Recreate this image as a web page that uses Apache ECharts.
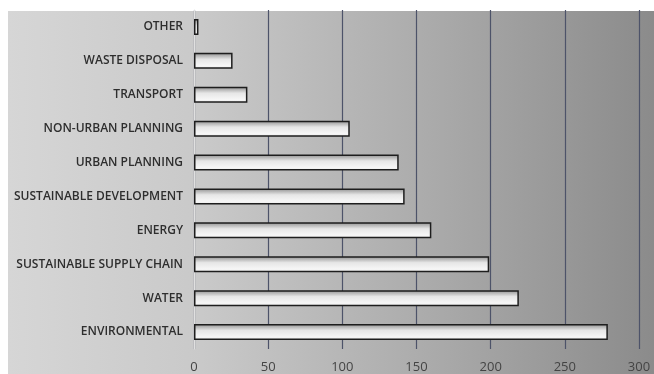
<!DOCTYPE html>
<html>
<head>
<meta charset="utf-8">
<script src="https://cdn.jsdelivr.net/npm/echarts@6/dist/echarts.min.js"></script>
<style>
html,body{margin:0;padding:0;background:#fff;}
#chart{width:654px;height:374px;}
</style>
</head>
<body>
<div id="chart"></div>
<script>
var categories = ['OTHER','WASTE DISPOSAL','TRANSPORT','NON-URBAN PLANNING','URBAN PLANNING','SUSTAINABLE DEVELOPMENT','ENERGY','SUSTAINABLE SUPPLY CHAIN','WATER','ENVIRONMENTAL'];
var values = [3, 26, 36, 105, 138, 142, 160, 199, 219, 279];
var xTicks = [0, 50, 100, 150, 200, 250, 300];

var chart = echarts.init(document.getElementById('chart'));
chart.setOption({
  animation: false,
  graphic: [{
    type: 'rect',
    z: -100,
    shape: {x: 8, y: 11, width: 646, height: 363},
    style: {
      fill: new echarts.graphic.LinearGradient(0, 0, 1, 0, [
        {offset: 0, color: '#d6d6d6'},
        {offset: 0.3, color: '#c9c9c9'},
        {offset: 0.65, color: '#ababab'},
        {offset: 1, color: '#8b8b8b'}
      ])
    },
    silent: true
  }],
  grid: {left: 194, right: 15, top: 10, bottom: 23, containLabel: false},
  xAxis: {
    type: 'value',
    min: xTicks[0],
    max: xTicks[xTicks.length - 1],
    interval: 50,
    axisLine: {show: false},
    axisTick: {show: false},
    axisLabel: {color: '#444', fontSize: 13, fontFamily: 'Open Sans', margin: 12},
    splitLine: {show: true, lineStyle: {color: '#4d5369', width: 1.2}}
  },
  yAxis: {
    type: 'category',
    data: categories,
    inverse: true,
    axisLine: {show: true, lineStyle: {color: '#e0e0e0', width: 1}},
    axisTick: {show: false},
    axisLabel: {color: '#2e2e2e', fontSize: 12, fontWeight: 600, fontFamily: 'Open Sans', margin: 11}
  },
  series: [{
    type: 'bar',
    data: values,
    barWidth: 16,
    itemStyle: {
      borderColor: '#1e1e1e',
      borderWidth: 1.5,
      color: new echarts.graphic.LinearGradient(0, 0, 0, 1, [
        {offset: 0, color: '#8f8f8f'},
        {offset: 0.4, color: '#e6e6e6'},
        {offset: 0.8, color: '#f6f6f6'},
        {offset: 1, color: '#eaeaea'}
      ])
    }
  }]
});
</script>
</body>
</html>
